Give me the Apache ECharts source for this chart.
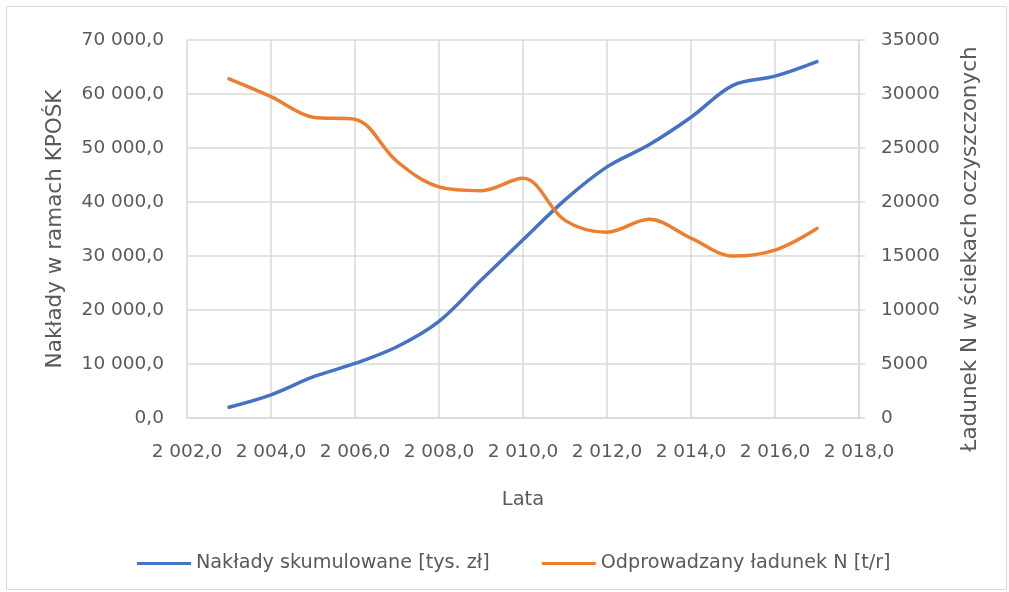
<!DOCTYPE html>
<html>
<head>
<meta charset="utf-8">
<script src="https://cdn.jsdelivr.net/npm/echarts@6/dist/echarts.min.js"></script>
<style>
  html, body { margin: 0; padding: 0; background: #fff; }
  #chart { width: 1009px; height: 592px; }
</style>
</head>
<body>
<div id="chart"></div>
<script>
// Years of the programme
const years = [2003, 2004, 2005, 2006, 2007, 2008, 2009, 2010, 2011, 2012, 2013, 2014, 2015, 2016, 2017];
// Cumulative expenditure [tys. zł]
const naklady = [2000, 4300, 7600, 10100, 13200, 17900, 25500, 33000, 40400, 46500, 50600, 55700, 61600, 63300, 66000];
// Discharged nitrogen load [t/r]
const ladunek = [31400, 29750, 27850, 27650, 23750, 21400, 21050, 22200, 18300, 17200, 18400, 16650, 15000, 15550, 17550];

const seriesNames = ['Nakłady skumulowane [tys. zł]', 'Odprowadzany ładunek N [t/r]'];

const FONT = 'DejaVu Sans';
const TXT = '#595959';
const GRID = '#D9D9D9';

// Polish number format: space as thousands separator, one decimal after a comma
function plFormat(v) {
  const s = Math.round(v).toString().replace(/\B(?=(\d{3})+(?!\d))/g, ' ');
  return s + ',0';
}

const chart = echarts.init(document.getElementById('chart'), null, { renderer: 'canvas' });
chart.setOption({
  animation: false,
  textStyle: { fontFamily: FONT },
  graphic: [{
    type: 'rect',
    shape: { x: 6.5, y: 6.5, width: 1000, height: 583 },
    style: { fill: 'none', stroke: '#D9D9D9', lineWidth: 1 },
    silent: true
  }],
  grid: { left: 187, right: 150, top: 40, bottom: 174 },
  legend: {
    top: 549,
    left: 132,
    itemGap: 52,
    itemWidth: 54,
    itemHeight: 3,
    icon: 'rect',
    textStyle: { color: TXT, fontSize: 19.2, fontFamily: FONT },
    data: seriesNames
  },
  xAxis: {
    type: 'value',
    min: 2002, max: 2018, interval: 2,
    name: 'Lata',
    nameLocation: 'middle',
    nameGap: 72,
    nameTextStyle: { color: TXT, fontSize: 19.5, fontFamily: FONT },
    axisLine: { show: true, lineStyle: { color: GRID, width: 1.5 } },
    axisTick: { show: false },
    axisLabel: { color: TXT, fontSize: 18.5, fontFamily: FONT, margin: 25, formatter: plFormat },
    splitLine: { show: true, lineStyle: { color: GRID, width: 1.5 } }
  },
  yAxis: [{
    type: 'value',
    min: 0, max: 70000, interval: 10000,
    name: 'Nakłady w ramach KPOŚK',
    nameLocation: 'middle',
    nameGap: 121,
    nameRotate: 90,
    nameTextStyle: { color: TXT, fontSize: 21.5, fontFamily: FONT },
    axisLine: { show: false },
    axisTick: { show: false },
    axisLabel: { color: TXT, fontSize: 18.5, fontFamily: FONT, margin: 23, formatter: plFormat },
    splitLine: { show: true, lineStyle: { color: GRID, width: 1.5 } }
  }, {
    type: 'value',
    min: 0, max: 35000, interval: 5000,
    position: 'right',
    name: 'Ładunek N w ściekach oczyszczonych',
    nameLocation: 'middle',
    nameGap: 100,
    nameRotate: 90,
    nameTextStyle: { color: TXT, fontSize: 21.5, fontFamily: FONT, padding: [0, 40, 0, 0] },
    axisLine: { show: true, lineStyle: { color: GRID, width: 1.5 } },
    axisTick: { show: true, length: 6, lineStyle: { color: GRID, width: 1.5 } },
    axisLabel: { color: TXT, fontSize: 18.5, fontFamily: FONT, margin: 22, formatter: (v) => String(v) },
    splitLine: { show: false }
  }],
  series: [{
    name: seriesNames[0],
    type: 'line',
    yAxisIndex: 0,
    smooth: 0.35,
    showSymbol: false,
    symbol: 'none',
    lineStyle: { color: '#4472C4', width: 3.5, cap: 'round' },
    itemStyle: { color: '#4472C4' },
    data: years.map((y, i) => [y, naklady[i]])
  }, {
    name: seriesNames[1],
    type: 'line',
    yAxisIndex: 1,
    smooth: 0.35,
    showSymbol: false,
    symbol: 'none',
    lineStyle: { color: '#ED7D31', width: 3.5, cap: 'round' },
    itemStyle: { color: '#ED7D31' },
    data: years.map((y, i) => [y, ladunek[i]])
  }]
});
</script>
</body>
</html>
